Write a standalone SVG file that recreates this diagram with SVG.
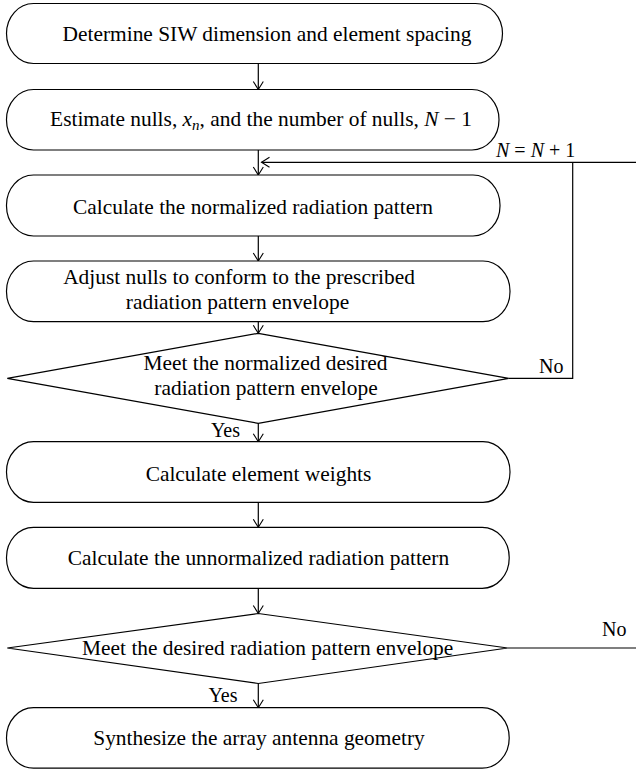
<svg xmlns="http://www.w3.org/2000/svg" width="636" height="769" viewBox="0 0 636 769">
<style>
.box{fill:#fff;stroke:#000;stroke-width:1.2}
.t{font-family:"Liberation Serif","Times New Roman",serif;font-size:21.4px;fill:#000;text-anchor:middle}
.lbl{font-family:"Liberation Serif","Times New Roman",serif;font-size:20px;fill:#000}
.c{fill:none;stroke:#000;stroke-width:1.2}
.i{font-style:italic}
</style>
<defs>
<marker id="ah" markerWidth="12" markerHeight="12" refX="9" refY="6" orient="auto" markerUnits="userSpaceOnUse">
<path d="M1,1 L9,6 L1,11" fill="none" stroke="#000" stroke-width="1.1"/>
</marker>
</defs>
<rect width="636" height="769" fill="#fff"/>
<g id="connectors">
<line class="c" x1="258.3" y1="63.5" x2="258.3" y2="89.5" marker-end="url(#ah)"/>
<line class="c" x1="258.3" y1="150" x2="258.3" y2="175" marker-end="url(#ah)"/>
<line class="c" x1="636" y1="162.3" x2="261.5" y2="162.3" marker-end="url(#ah)"/>
<polyline class="c" points="508.7,378.3 572.7,378.3 572.7,162.3"/>
<line class="c" x1="258.3" y1="236" x2="258.3" y2="261" marker-end="url(#ah)"/>
<line class="c" x1="258.3" y1="321.7" x2="258.3" y2="333.3" marker-end="url(#ah)"/>
<line class="c" x1="258.3" y1="423.3" x2="258.3" y2="441.7" marker-end="url(#ah)"/>
<line class="c" x1="258.3" y1="502.3" x2="258.3" y2="527.3" marker-end="url(#ah)"/>
<line class="c" x1="258.3" y1="588.3" x2="258.3" y2="613.5" marker-end="url(#ah)"/>
<line class="c" x1="507.7" y1="648" x2="636" y2="648"/>
<line class="c" x1="258.3" y1="683.5" x2="258.3" y2="707.7" marker-end="url(#ah)"/>
<text class="lbl" x="496" y="156.7"><tspan class="i">N</tspan> = <tspan class="i">N</tspan> + 1</text>
<text class="lbl" x="539" y="373">No</text>
<text class="lbl" x="240" y="436.7" text-anchor="end">Yes</text>
<text class="lbl" x="602" y="636">No</text>
<text class="lbl" x="237.5" y="701.7" text-anchor="end">Yes</text>
</g>
<g id="n1">
<rect class="box" x="6.5" y="3.5" width="496" height="60" rx="27" ry="30"/>
<text class="t" x="267" y="41">Determine SIW dimension and element spacing</text>
</g>
<g id="n2">
<rect class="box" x="6.5" y="89.5" width="492.5" height="60.5" rx="27" ry="30"/>
<text class="t" x="261" y="126">Estimate nulls, <tspan class="i">x</tspan><tspan class="i" font-size="15" dy="4">n</tspan><tspan dy="-4">, and the number of nulls, </tspan><tspan class="i">N</tspan> − 1</text>
</g>
<g id="n3">
<rect class="box" x="6.5" y="175" width="493.5" height="61" rx="27" ry="30"/>
<text class="t" x="253" y="213.5">Calculate the normalized radiation pattern</text>
</g>
<g id="n4">
<rect class="box" x="6.5" y="261" width="503.5" height="60.7" rx="27" ry="30"/>
<text class="t" x="239" y="284.3">Adjust nulls to conform to the prescribed</text>
<text class="t" x="237.5" y="309.3">radiation pattern envelope</text>
</g>
<g id="d1">
<polygon class="box" points="258.3,333.3 508.7,378.3 258.3,423.3 7.3,378.3"/>
<text class="t" x="265.5" y="370">Meet the normalized desired</text>
<text class="t" x="266" y="395">radiation pattern envelope</text>
</g>
<g id="n5">
<rect class="box" x="6.5" y="441.7" width="503.5" height="60.6" rx="27" ry="30"/>
<text class="t" x="258.5" y="481">Calculate element weights</text>
</g>
<g id="n6">
<rect class="box" x="6.5" y="527.3" width="502.7" height="61" rx="27" ry="30"/>
<text class="t" x="258.5" y="565">Calculate the unnormalized radiation pattern</text>
</g>
<g id="d2">
<polygon class="box" points="258.3,613.5 507.7,648 258.3,683.5 7.3,648"/>
<text class="t" x="267.7" y="654.5">Meet the desired radiation pattern envelope</text>
</g>
<g id="n7">
<rect class="box" x="6.5" y="707.7" width="502.7" height="60.5" rx="27" ry="30"/>
<text class="t" x="259" y="745">Synthesize the array antenna geometry</text>
</g>
</svg>
